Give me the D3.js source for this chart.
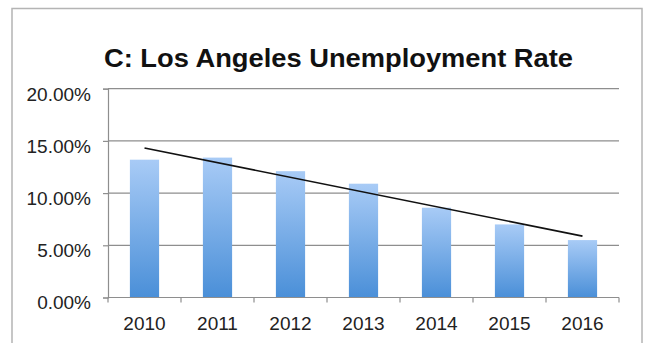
<!DOCTYPE html>
<html>
<head>
<meta charset="utf-8">
<script src="https://cdn.jsdelivr.net/npm/d3@7"></script>
<style>
  html, body { margin: 0; padding: 0; background: #fff; }
  svg { display: block; }
  text { font-family: "Liberation Sans", Arial, Helvetica, sans-serif; }
</style>
</head>
<body>
<svg id="chart" width="645" height="343"></svg>
<script>
// Annual unemployment rate, Los Angeles
const years = ["2010", "2011", "2012", "2013", "2014", "2015", "2016"];
const rates = [0.132, 0.134, 0.121, 0.109, 0.086, 0.070, 0.055];
const yTicks = [0, 0.05, 0.10, 0.15, 0.20];
const titleText = "C: Los Angeles Unemployment Rate";

const svg = d3.select("#chart");
const W = 645, H = 343;
const plot = { left: 108, right: 619, top: 88.7, bottom: 297.5 };
const labelSize = 19;

// chart frame
svg.append("rect")
  .attr("x", 12).attr("y", 8.5)
  .attr("width", 630).attr("height", H)
  .attr("fill", "#fff")
  .attr("stroke", "#b4b4b4").attr("stroke-width", 1.5);

// title
svg.append("text")
  .attr("x", 104).attr("y", 67)
  .attr("font-size", 25).attr("font-weight", "bold")
  .attr("fill", "#111")
  .attr("textLength", 469).attr("lengthAdjust", "spacingAndGlyphs")
  .text(titleText);

const x = d3.scaleBand().domain(years).range([plot.left, plot.right]).padding(0);
const y = d3.scaleLinear().domain([0, 0.20]).range([plot.bottom, plot.top]);

// gradient fill for the bars
const defs = svg.append("defs");
const grad = defs.append("linearGradient")
  .attr("id", "barFill").attr("x1", 0).attr("y1", 0).attr("x2", 0).attr("y2", 1);
grad.append("stop").attr("offset", "0%").attr("stop-color", "#a8cbf6");
grad.append("stop").attr("offset", "100%").attr("stop-color", "#4a8fd8");

// horizontal gridlines
svg.append("g")
  .selectAll("line")
  .data(yTicks.filter(d => d > 0))
  .join("line")
  .attr("x1", plot.left).attr("x2", plot.right)
  .attr("y1", d => y(d)).attr("y2", d => y(d))
  .attr("stroke", "#8e8e8e").attr("stroke-width", 1.2);

// y axis
const yAxis = d3.axisLeft(y)
  .tickValues(yTicks)
  .tickFormat(d3.format(".2%"))
  .tickSize(5)
  .tickPadding(12);
const gy = svg.append("g").attr("transform", `translate(${plot.left},0)`).call(yAxis);
gy.select(".domain").attr("stroke", "#8e8e8e").attr("stroke-width", 1.2);
gy.selectAll(".tick line").attr("stroke", "#8e8e8e").attr("stroke-width", 1.2);
gy.selectAll(".tick text")
  .attr("font-size", labelSize).attr("fill", "#222")
  .attr("font-family", "'Liberation Sans', Arial, Helvetica, sans-serif")
  .attr("dy", "0.6em");

// bars
const barW = x.bandwidth() * 0.4;
svg.append("g")
  .selectAll("rect")
  .data(years.map((yr, i) => ({ yr, v: rates[i] })))
  .join("rect")
  .attr("x", d => x(d.yr) + (x.bandwidth() - barW) / 2)
  .attr("width", barW)
  .attr("y", d => y(d.v))
  .attr("height", d => y(0) - y(d.v))
  .attr("fill", "url(#barFill)");

// x axis with ticks between categories
const gx = svg.append("g").attr("transform", `translate(0,${plot.bottom})`);
gx.append("line")
  .attr("x1", plot.left).attr("x2", plot.right)
  .attr("stroke", "#8e8e8e").attr("stroke-width", 1.2);
const bounds = years.map(yr => x(yr)).concat([x(years[years.length - 1]) + x.bandwidth()]);
gx.selectAll("line.tk")
  .data(bounds)
  .join("line").attr("class", "tk")
  .attr("x1", d => d).attr("x2", d => d)
  .attr("y1", 0).attr("y2", 5)
  .attr("stroke", "#8e8e8e").attr("stroke-width", 1.2);
gx.selectAll("text")
  .data(years)
  .join("text")
  .attr("x", d => x(d) + x.bandwidth() / 2)
  .attr("y", 32.5)
  .attr("text-anchor", "middle")
  .attr("font-size", labelSize).attr("fill", "#222")
  .text(d => d);

// linear trendline (least squares over category index)
const n = rates.length;
const xs = d3.range(n);
const mx = d3.mean(xs), my = d3.mean(rates);
const slope = d3.sum(xs, i => (i - mx) * (rates[i] - my)) / d3.sum(xs, i => (i - mx) ** 2);
const icpt = my - slope * mx;
const trend = [0, n - 1].map(i => [x(years[i]) + x.bandwidth() / 2, y(icpt + slope * i)]);
svg.append("path")
  .attr("d", d3.line()(trend))
  .attr("fill", "none")
  .attr("stroke", "#111").attr("stroke-width", 1.6);
</script>
</body>
</html>
